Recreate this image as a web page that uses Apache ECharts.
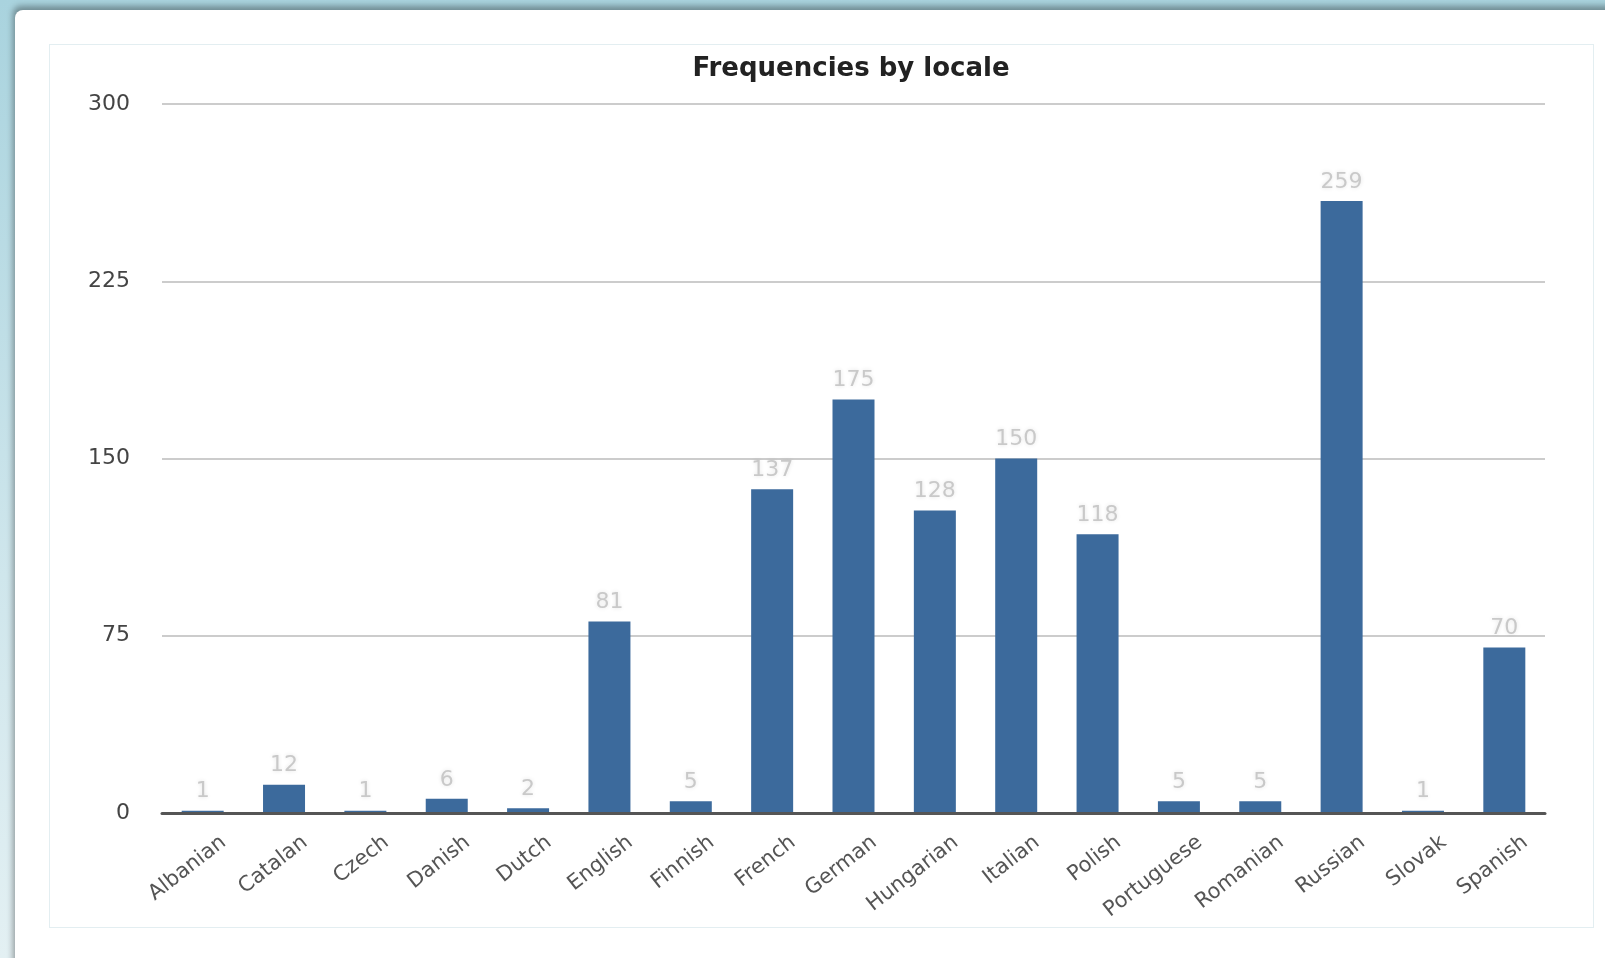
<!DOCTYPE html>
<html>
<head>
<meta charset="utf-8">
<title>Frequencies by locale</title>
<script src="https://cdn.jsdelivr.net/npm/echarts@6/dist/echarts.min.js"></script>
<style>
    html, body { margin: 0; padding: 0; width: 1605px; height: 958px; overflow: hidden; }
    body { background: linear-gradient(180deg, #a9d3de 0%, #cfe6ec 60%, #e3f0f3 100%); position: relative; }
    #panel {
        position: absolute; left: 15px; top: 10px; width: 1620px; height: 980px;
        background: #fff; border-top-left-radius: 8px;
        box-shadow: -2px -4px 6px rgba(0, 0, 0, 0.35);
    }
    #main-chart {
        position: absolute; left: 49px; top: 44px; width: 1545px; height: 884px;
        border: 1px solid #e3eef1; box-sizing: border-box; background: #fff;
    }
</style>
</head>
<body>
<div id="panel"></div>
<div id="main-chart"></div>
<script>
var locales = ['Albanian', 'Catalan', 'Czech', 'Danish', 'Dutch', 'English', 'Finnish', 'French',
    'German', 'Hungarian', 'Italian', 'Polish', 'Portuguese', 'Romanian', 'Russian', 'Slovak', 'Spanish'];
var frequencies = [1, 12, 1, 6, 2, 81, 5, 137, 175, 128, 150, 118, 5, 5, 259, 1, 70];
var yTicks = [0, 75, 150, 225, 300];

var mainChart;
// labels sit a bit right of their bars in the original, so they get their own shifted grid
var labelShift = 21;

window.onload = function () {
    chartInit();
}

function chartInit() {
    mainChart = echarts.init(document.getElementById('main-chart'));

    var mainOpt = {
        animation: false,
        title: {
            text: 'Frequencies by locale',
            left: 796,
            textAlign: 'center',
            top: 6,
            textStyle: {
                fontFamily: 'DejaVu Sans',
                fontSize: 26,
                fontWeight: 'bold',
                color: '#222'
            }
        },
        grid: [{
            left: 112,
            right: 48,
            top: 59,
            bottom: 114
        }, {
            left: 112 + labelShift,
            right: 48 - labelShift,
            top: 59,
            bottom: 114
        }],
        xAxis: [{
            type: 'category',
            gridIndex: 0,
            data: locales,
            z: 3,
            axisTick: { show: false },
            axisLine: { lineStyle: { color: '#555', width: 3 } },
            axisLabel: { show: false }
        }, {
            type: 'category',
            gridIndex: 1,
            data: locales,
            axisTick: { show: false },
            axisLine: { show: false },
            axisLabel: {
                rotate: 38,
                interval: 0,
                margin: 27,
                fontFamily: 'DejaVu Sans',
                fontSize: 21,
                color: '#555'
            }
        }],
        yAxis: [{
            type: 'value',
            gridIndex: 0,
            min: yTicks[0],
            max: yTicks[yTicks.length - 1],
            interval: yTicks[1] - yTicks[0],
            axisLine: { show: false },
            axisTick: { show: false },
            splitLine: { lineStyle: { color: '#ccc', width: 2 } },
            axisLabel: {
                margin: 32,
                fontFamily: 'DejaVu Sans',
                fontSize: 22,
                color: '#444'
            }
        }, {
            type: 'value',
            gridIndex: 1,
            min: 0,
            max: 1,
            show: false
        }],
        series: [{
            type: 'bar',
            xAxisIndex: 0,
            yAxisIndex: 0,
            data: frequencies,
            barWidth: 42,
            itemStyle: { color: '#3c6a9c' },
            label: {
                show: true,
                position: 'top',
                distance: 8,
                fontFamily: 'DejaVu Sans',
                fontSize: 22,
                color: '#c9c9c9',
                textShadowColor: 'rgba(0,0,0,0.12)',
                textShadowBlur: 4
            }
        }]
    };

    mainChart.setOption(mainOpt);
}
</script>
</body>
</html>
